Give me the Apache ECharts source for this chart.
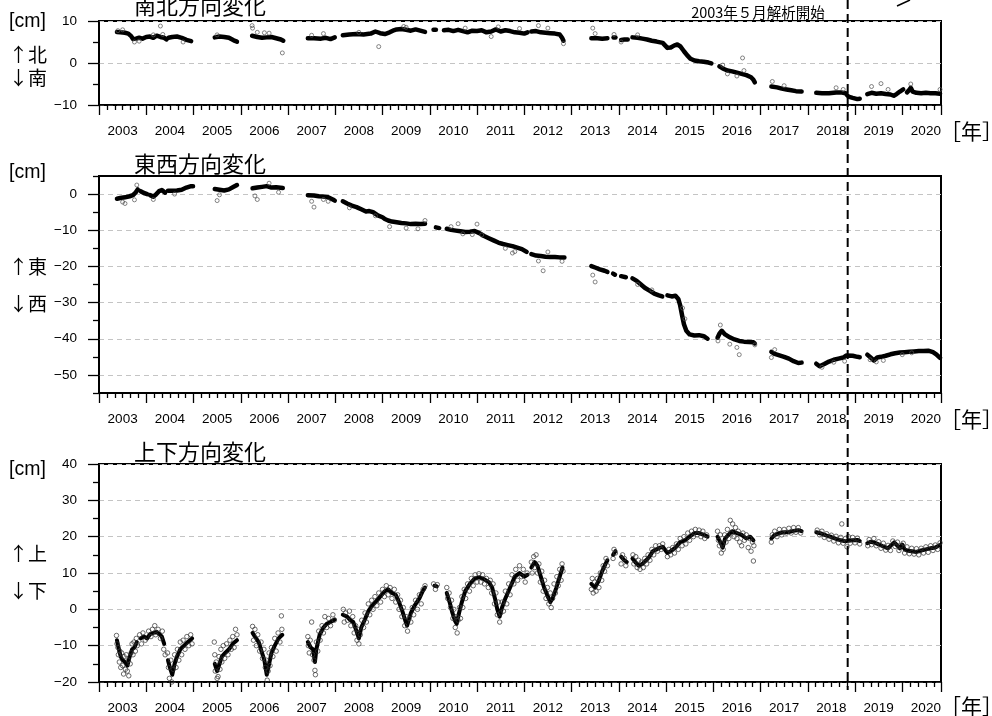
<!DOCTYPE html>
<html><head><meta charset="utf-8">
<script src="https://cdn.jsdelivr.net/npm/echarts@6/dist/echarts.min.js"></script>
<style>html,body{margin:0;padding:0;background:#fff;overflow:hidden}#c{width:992px;height:716px}</style>
</head><body><div id="c"></div><script>
// ---------- data ----------
const yearLabels = ['2003','2004','2005','2006','2007','2008','2009','2010','2011','2012','2013','2014','2015','2016','2017','2018','2019','2020'];
const xMin = 2003, xMax = 2020.82;
const markerYear = 2018.845;
const panelTitles = ['南北方向変化','東西方向変化','上下方向変化'];
const unitLabel = '[cm]';
const dirLabels = [['↑北','↓南'],['↑東','↓西'],['↑上','↓下']];
const yearUnit = '［年］';
const noteText = '2003年５月解析開始';

// y-axis ranges and labelled ticks per panel
const yRanges = [[-10,10],[-55,5],[-20,40]];
const yTickLabels = [[-10,0,10],[-50,-40,-30,-20,-10,0],[-20,-10,0,10,20,30,40]];

// North-South trend segments [year, cm]
const nsSegs = [
 [[2003.38,7.4],[2003.45,7.3],[2003.55,7.2],[2003.62,7.0],[2003.68,6.4],[2003.72,5.7],[2003.78,5.8],[2003.85,6.0],[2003.92,5.8],[2004.0,6.2],[2004.08,6.3],[2004.15,6.0],[2004.22,6.5],[2004.3,6.2],[2004.38,6.0],[2004.43,5.6]],
 [[2004.47,6.0],[2004.55,6.2],[2004.65,6.3],[2004.75,6.0],[2004.85,5.5],[2004.95,5.2]],
 [[2005.45,6.1],[2005.55,6.3],[2005.65,6.2],[2005.75,6.0],[2005.85,5.4],[2005.92,5.1]],
 [[2006.24,6.5],[2006.35,6.2],[2006.45,6.0],[2006.55,6.1],[2006.65,6.2],[2006.75,5.9],[2006.85,5.6],[2006.9,5.3]],
 [[2007.42,5.9],[2007.55,5.9],[2007.7,5.8],[2007.8,6.0],[2007.9,5.7],[2007.99,6.1]],
 [[2008.16,6.6],[2008.3,6.8],[2008.45,6.9],[2008.6,6.8],[2008.75,7.0],[2008.85,7.5],[2008.95,7.1],[2009.05,6.9],[2009.15,7.3],[2009.22,7.7],[2009.3,8.0],[2009.4,8.1],[2009.5,7.9],[2009.6,7.7],[2009.7,8.0],[2009.8,7.7],[2009.9,7.4]],
 [[2010.08,7.9],[2010.13,7.9]],
 [[2010.3,7.8],[2010.4,7.9],[2010.5,7.6],[2010.6,7.9],[2010.7,7.6],[2010.8,7.3],[2010.9,7.7],[2011.0,7.6],[2011.1,7.8],[2011.2,7.3],[2011.3,7.5],[2011.4,8.0],[2011.5,7.5],[2011.6,7.8],[2011.7,7.6],[2011.8,7.3],[2011.9,7.2],[2012.0,7.0],[2012.07,7.3]],
 [[2012.15,7.5],[2012.25,7.6],[2012.35,7.3],[2012.45,7.2],[2012.55,7.1],[2012.65,7.0],[2012.75,6.8],[2012.8,6.0],[2012.83,5.3]],
 [[2013.42,5.9],[2013.55,5.9],[2013.65,5.8],[2013.76,5.9]],
 [[2013.89,6.1],[2013.93,6.1]],
 [[2014.05,5.5],[2014.12,5.6],[2014.19,5.6]],
 [[2014.29,6.1],[2014.4,6.0],[2014.5,5.8],[2014.6,5.6],[2014.7,5.3],[2014.8,5.1],[2014.93,4.8],[2015.03,3.6],[2015.1,3.7],[2015.18,4.2],[2015.24,4.4],[2015.3,4.0],[2015.38,2.8],[2015.45,1.8],[2015.52,1.0],[2015.6,0.6],[2015.7,0.4],[2015.8,0.3],[2015.9,0.1],[2015.96,-0.1]],
 [[2016.13,-0.8],[2016.2,-1.3],[2016.3,-1.8],[2016.4,-2.0],[2016.5,-2.3],[2016.6,-2.6],[2016.7,-2.9],[2016.8,-3.4],[2016.85,-4.0],[2016.88,-4.6]],
 [[2017.23,-5.6],[2017.35,-5.8],[2017.45,-6.1],[2017.55,-6.3],[2017.65,-6.5],[2017.75,-6.7],[2017.87,-6.8]],
 [[2018.18,-7.1],[2018.3,-7.2],[2018.45,-7.2],[2018.6,-7.0],[2018.7,-7.0],[2018.8,-7.2],[2018.86,-8.0],[2018.95,-8.3],[2019.05,-8.6],[2019.1,-8.5]],
 [[2019.26,-7.4],[2019.35,-7.1],[2019.45,-7.3],[2019.55,-7.2],[2019.65,-7.4],[2019.75,-7.5],[2019.82,-7.8],[2019.88,-7.4],[2019.95,-6.8],[2020.02,-6.3]],
 [[2020.1,-7.0],[2020.15,-6.4],[2020.18,-5.9],[2020.22,-6.8],[2020.3,-7.1],[2020.4,-7.2],[2020.5,-7.1],[2020.6,-7.2],[2020.7,-7.2],[2020.8,-7.3]]
];
const nsOut = [[2003.4,7.7],[2003.5,7.9],[2003.75,5.0],[2003.85,5.2],[2004.15,6.7],[2004.3,8.8],[2004.35,6.8],[2004.78,5.0],[2005.5,6.7],[2006.24,8.9],[2006.25,8.3],[2006.35,7.3],[2006.5,7.2],[2006.6,7.1],[2006.88,2.4],[2007.5,6.6],[2007.75,7.0],[2008.5,7.3],[2008.92,3.9],[2009.45,8.7],[2009.5,8.5],[2010.75,8.3],[2011.3,6.3],[2011.45,8.6],[2011.9,8.2],[2012.3,8.9],[2012.5,8.3],[2012.83,4.6],[2013.45,8.3],[2013.5,7.0],[2013.9,6.8],[2014.05,5.0],[2014.4,6.7],[2016.2,-0.5],[2016.3,-2.6],[2016.5,-3.1],[2016.62,1.2],[2016.65,-1.8],[2017.25,-4.4],[2017.5,-5.4],[2018.6,-5.9],[2018.75,-6.3],[2019.35,-5.6],[2019.55,-4.9],[2019.7,-6.3],[2020.18,-5.0],[2020.8,-6.3]];

// East-West trend segments
const ewSegs = [
 [[2003.38,-1.3],[2003.45,-1.1],[2003.55,-0.9],[2003.65,-0.6],[2003.72,-0.3],[2003.78,0.5],[2003.82,1.3]],
 [[2003.88,0.8],[2003.95,0.3],[2004.02,0.0]],
 [[2004.08,-0.3],[2004.15,-0.7],[2004.2,-0.2],[2004.27,0.8],[2004.33,1.1],[2004.4,0.4]],
 [[2004.46,0.9],[2004.55,0.9],[2004.65,1.0],[2004.75,1.2],[2004.85,1.8],[2004.95,2.2],[2004.99,2.2]],
 [[2005.45,1.4],[2005.55,1.2],[2005.65,1.0],[2005.75,1.3],[2005.85,2.0],[2005.92,2.5]],
 [[2006.25,1.6],[2006.35,1.8],[2006.45,2.0],[2006.55,2.2],[2006.65,1.8],[2006.75,1.9],[2006.89,1.7]],
 [[2007.42,-0.3],[2007.55,-0.4],[2007.65,-0.6],[2007.75,-0.7],[2007.85,-0.9],[2007.95,-1.5],[2007.99,-1.8]],
 [[2008.16,-2.0],[2008.25,-2.6],[2008.35,-3.2],[2008.45,-3.6],[2008.55,-4.2],[2008.65,-4.8],[2008.72,-4.7],[2008.8,-5.0],[2008.9,-5.9],[2009.0,-6.4],[2009.05,-6.9],[2009.12,-7.3],[2009.2,-7.6],[2009.3,-7.8],[2009.4,-8.0],[2009.5,-8.1],[2009.6,-8.3],[2009.7,-8.2],[2009.8,-8.3],[2009.9,-8.2]],
 [[2010.13,-9.2],[2010.2,-9.4]],
 [[2010.36,-9.6],[2010.45,-9.9],[2010.55,-10.1],[2010.65,-10.3],[2010.75,-10.5],[2010.85,-10.4],[2010.95,-10.2],[2011.05,-10.8],[2011.15,-11.6],[2011.25,-12.2],[2011.35,-12.8],[2011.45,-13.4],[2011.55,-13.8],[2011.65,-14.1],[2011.75,-14.4],[2011.85,-14.8],[2011.95,-15.2],[2012.05,-16.0]],
 [[2012.15,-16.6],[2012.25,-17.0],[2012.35,-17.1],[2012.45,-17.3],[2012.55,-17.4],[2012.65,-17.4],[2012.75,-17.5],[2012.85,-17.5]],
 [[2013.42,-19.9],[2013.5,-20.3],[2013.6,-20.8],[2013.7,-21.2],[2013.76,-21.5]],
 [[2013.88,-22.0],[2013.92,-22.3]],
 [[2014.05,-22.7],[2014.15,-23.0]],
 [[2014.29,-23.3],[2014.38,-24.0],[2014.47,-25.0],[2014.55,-25.9],[2014.65,-26.7],[2014.75,-27.5],[2014.85,-28.0],[2014.92,-28.3]],
 [[2015.03,-28.0],[2015.12,-28.3],[2015.2,-28.1],[2015.26,-29.0],[2015.3,-30.8],[2015.34,-33.5],[2015.38,-36.0],[2015.43,-37.8],[2015.5,-38.8],[2015.6,-39.1],[2015.7,-39.0],[2015.8,-39.3],[2015.88,-40.0]],
 [[2016.09,-39.7],[2016.13,-38.6],[2016.18,-37.8],[2016.25,-38.8],[2016.35,-39.6],[2016.45,-40.2],[2016.55,-40.6],[2016.65,-40.8],[2016.75,-40.9],[2016.85,-41.0],[2016.88,-41.3]],
 [[2017.23,-43.6],[2017.3,-44.2],[2017.4,-44.6],[2017.5,-45.0],[2017.6,-45.5],[2017.7,-46.2],[2017.8,-46.7],[2017.87,-46.6]],
 [[2018.18,-46.9],[2018.25,-47.6],[2018.35,-47.0],[2018.45,-46.3],[2018.55,-45.8],[2018.65,-45.5],[2018.75,-45.2],[2018.82,-44.6],[2018.86,-44.1],[2018.95,-44.7],[2019.05,-45.0],[2019.1,-45.1]],
 [[2019.26,-44.4],[2019.33,-45.2],[2019.4,-46.0],[2019.47,-45.2],[2019.55,-45.0],[2019.65,-44.7],[2019.75,-44.3],[2019.85,-44.0],[2019.95,-43.8],[2020.05,-43.7],[2020.15,-43.6],[2020.25,-43.5],[2020.35,-43.4],[2020.45,-43.4],[2020.55,-43.3],[2020.65,-43.7],[2020.72,-44.3],[2020.8,-45.3]]
];
const ewOut = [[2003.5,-2.2],[2003.55,-2.6],[2003.75,-1.6],[2003.8,2.5],[2004.15,-1.5],[2004.6,0.0],[2005.5,-1.8],[2005.55,-0.2],[2006.3,-0.5],[2006.35,-1.5],[2006.6,3.0],[2006.8,0.5],[2007.5,-2.0],[2007.55,-3.6],[2007.75,-1.5],[2007.85,-2.0],[2008.3,-3.8],[2008.85,-6.0],[2009.15,-9.0],[2009.5,-9.4],[2009.75,-9.6],[2009.9,-7.3],[2010.45,-9.0],[2010.6,-8.2],[2010.7,-11.0],[2010.9,-11.2],[2011.0,-8.3],[2011.1,-11.3],[2011.6,-15.0],[2011.75,-16.3],[2011.8,-15.9],[2012.3,-18.5],[2012.4,-21.2],[2012.5,-16.0],[2012.8,-18.6],[2013.45,-22.4],[2013.5,-24.3],[2014.4,-25.0],[2014.7,-26.5],[2015.35,-31.5],[2015.4,-34.5],[2016.1,-40.6],[2016.15,-36.2],[2016.35,-41.5],[2016.5,-42.4],[2016.55,-44.4],[2016.88,-41.7],[2017.23,-45.2],[2017.3,-43.0],[2018.3,-47.9],[2018.55,-46.5],[2018.78,-46.2],[2019.32,-45.8],[2019.45,-46.4],[2019.6,-46.0],[2020.0,-44.4],[2020.2,-43.9]];

// Up-Down trend segments
const udSegs = [
 [[2003.38,-8.5],[2003.42,-11],[2003.46,-13],[2003.5,-14],[2003.55,-14.5],[2003.6,-15.5],[2003.65,-13],[2003.7,-11],[2003.75,-10.5],[2003.8,-9]],
 [[2003.88,-8],[2003.95,-7.5],[2004.02,-8],[2004.08,-6.8],[2004.15,-6.5],[2004.22,-6.2],[2004.28,-6.8],[2004.33,-7.5],[2004.38,-9.5]],
 [[2004.46,-14],[2004.5,-16],[2004.55,-18],[2004.6,-15],[2004.65,-13],[2004.72,-11],[2004.8,-10],[2004.88,-9],[2004.97,-8]],
 [[2005.45,-15],[2005.5,-17],[2005.55,-15],[2005.6,-13],[2005.67,-12],[2005.75,-11],[2005.83,-9.5],[2005.92,-8.5]],
 [[2006.25,-6.5],[2006.3,-7.5],[2006.38,-9],[2006.45,-12],[2006.5,-14],[2006.55,-18],[2006.6,-15],[2006.65,-12],[2006.72,-10],[2006.8,-8],[2006.88,-7]],
 [[2007.42,-9],[2007.48,-10.5],[2007.53,-11],[2007.57,-14.5],[2007.6,-11],[2007.67,-7],[2007.75,-5],[2007.82,-4],[2007.9,-3.5],[2007.99,-2.8]],
 [[2008.16,-1.5],[2008.25,-2],[2008.32,-3],[2008.38,-3.5],[2008.45,-6],[2008.5,-8],[2008.55,-5],[2008.62,-3],[2008.7,-0.5],[2008.78,1],[2008.85,2],[2008.95,3.5],[2009.05,5],[2009.12,5.5],[2009.2,4.5],[2009.28,4],[2009.35,2],[2009.42,-0.5],[2009.48,-3],[2009.52,-4.5],[2009.6,-1],[2009.68,1],[2009.78,3],[2009.85,5],[2009.9,6]],
 [[2010.1,6.5],[2010.15,6.3]],
 [[2010.36,4.5],[2010.42,2],[2010.48,-1],[2010.53,-3],[2010.57,-4],[2010.62,-1],[2010.68,2],[2010.75,5],[2010.85,7],[2010.95,8.5],[2011.05,8.8],[2011.15,8.3],[2011.25,7.5],[2011.32,6],[2011.38,3],[2011.43,0],[2011.48,-2],[2011.53,0.5],[2011.6,3],[2011.7,6],[2011.8,9],[2011.9,10],[2012.0,9],[2012.07,9.5]],
 [[2012.15,11.5],[2012.22,13],[2012.28,12],[2012.35,9],[2012.42,6],[2012.5,3.5],[2012.55,2],[2012.6,3],[2012.68,6],[2012.75,9],[2012.81,11.5]],
 [[2013.42,7],[2013.5,6],[2013.58,8],[2013.65,10.5],[2013.72,12.5],[2013.76,13.5]],
 [[2013.88,15],[2013.93,16]],
 [[2014.05,14.5],[2014.12,13.5],[2014.17,13]],
 [[2014.29,14],[2014.35,13],[2014.42,12],[2014.5,12.5],[2014.58,13.5],[2014.65,14.5],[2014.72,16],[2014.8,16.5],[2014.88,17],[2014.93,17.2],[2015.03,15.5],[2015.1,16],[2015.2,17],[2015.3,18.5],[2015.4,19],[2015.5,20],[2015.6,21],[2015.7,21],[2015.8,20.5],[2015.88,20]],
 [[2016.09,20],[2016.15,18.5],[2016.2,17],[2016.25,19.5],[2016.32,20.5],[2016.4,21.5],[2016.5,21],[2016.6,20.5],[2016.7,19.5],[2016.78,20],[2016.85,19]],
 [[2017.23,19.5],[2017.3,20.5],[2017.4,21],[2017.5,21.2],[2017.6,21.3],[2017.7,21.6],[2017.8,21.8],[2017.87,21.5]],
 [[2018.18,21.2],[2018.3,20.8],[2018.4,20.3],[2018.5,19.9],[2018.6,19.4],[2018.7,19.0],[2018.8,18.7],[2018.86,18.9],[2018.95,19.0],[2019.05,19.1],[2019.1,18.8]],
 [[2019.26,18.2],[2019.33,18.6],[2019.4,18.4],[2019.5,17.9],[2019.6,17.3],[2019.7,16.8],[2019.78,17.8],[2019.83,18.4],[2019.9,17.5],[2019.95,16.8],[2020.0,17.8],[2020.05,16.5],[2020.1,16.2],[2020.2,16.0],[2020.3,15.8],[2020.4,16.2],[2020.5,16.5],[2020.6,16.8],[2020.7,17.0],[2020.8,17.7]]
];
const udPts = [
 [2003.37,-7.2],[2003.38,-9.5],[2003.4,-10.5],[2003.41,-12.5],[2003.43,-14.5],[2003.44,-11.5],[2003.46,-16],[2003.48,-12],[2003.5,-15.5],[2003.52,-17.8],[2003.53,-13],[2003.56,-16.5],[2003.58,-12.5],[2003.6,-17],[2003.62,-14],[2003.63,-18.3],[2003.66,-15],[2003.68,-12],[2003.7,-9.5],[2003.72,-12.5],[2003.74,-9],[2003.77,-11.5],[2003.79,-8],[2003.81,-10],[2003.86,-7],[2003.9,-9.5],[2003.93,-6.5],[2003.98,-8.5],[2004.05,-6],[2004.1,-7.5],[2004.13,-5.5],[2004.18,-4.5],[2004.2,-7],[2004.25,-5.5],[2004.3,-8],[2004.34,-6],[2004.37,-11],[2004.4,-12.5],[2004.45,-12],[2004.47,-16],[2004.49,-19],[2004.52,-14],[2004.54,-20],[2004.57,-16.5],[2004.6,-12.5],[2004.63,-16],[2004.66,-11],[2004.69,-14],[2004.72,-9],[2004.75,-12.5],[2004.78,-8.5],[2004.82,-11],[2004.86,-7.5],[2004.9,-10],[2004.94,-7],[2004.97,-9.5],
 [2005.44,-9],[2005.45,-12.5],[2005.46,-17],[2005.48,-14.5],[2005.5,-19],[2005.52,-18.5],[2005.54,-13],[2005.56,-16.5],[2005.58,-11],[2005.6,-14.5],[2005.63,-10],[2005.66,-13.5],[2005.7,-9.5],[2005.73,-12.5],[2005.77,-8.5],[2005.8,-11],[2005.83,-7.5],[2005.86,-10.5],[2005.89,-5.5],[2005.92,-7],
 [2006.25,-4.7],[2006.27,-8.5],[2006.3,-5.5],[2006.33,-10],[2006.36,-7],[2006.4,-11.5],[2006.43,-9],[2006.46,-13.5],[2006.49,-11],[2006.52,-16],[2006.54,-14],[2006.56,-19.5],[2006.58,-17],[2006.6,-12],[2006.62,-15.5],[2006.65,-10.5],[2006.68,-13],[2006.72,-8],[2006.75,-11.5],[2006.79,-6.5],[2006.83,-9],[2006.87,-5.5],[2006.86,-1.8],
 [2007.42,-7.5],[2007.43,-10],[2007.45,-12],[2007.47,-8.5],[2007.5,-3.5],[2007.52,-12.5],[2007.55,-14],[2007.57,-16.8],[2007.58,-18],[2007.6,-9],[2007.63,-11.5],[2007.65,-6],[2007.68,-8.5],[2007.72,-4.5],[2007.75,-6.5],[2007.78,-2],[2007.82,-5],[2007.86,-2.5],[2007.9,-4.5],[2007.95,-1.5],[2007.98,-3],
 [2008.17,0],[2008.19,-3.5],[2008.22,-1],[2008.26,-3],[2008.3,-0.5],[2008.33,-4.5],[2008.37,-2],[2008.4,-6.5],[2008.43,-4.5],[2008.46,-8.5],[2008.48,-5.5],[2008.5,-9.5],[2008.53,-7],[2008.56,-3],[2008.6,-5],[2008.63,-1],[2008.66,-3.5],[2008.7,1.5],[2008.73,-1.5],[2008.77,2.5],[2008.8,0],[2008.84,3.5],[2008.88,1],[2008.92,4.5],[2008.96,2],[2009.0,5.5],[2009.04,3.5],[2009.08,6.5],[2009.12,4],[2009.16,6],[2009.2,3],[2009.25,5.5],[2009.28,2],[2009.32,4],[2009.35,0],[2009.38,2.5],[2009.41,-2],[2009.44,0.5],[2009.47,-4.5],[2009.5,-2],[2009.53,-6],[2009.56,-2.5],[2009.6,-3.5],[2009.63,0.5],[2009.66,-1.5],[2009.7,2.5],[2009.74,0],[2009.78,4],[2009.82,1.5],[2009.86,5.5],[2009.9,6.5],
 [2010.08,7],[2010.12,5.5],[2010.16,6.8],[2010.36,6],[2010.38,3],[2010.41,4.5],[2010.44,0.5],[2010.46,2.5],[2010.49,-2.5],[2010.51,0],[2010.54,-5],[2010.56,-2],[2010.58,-6.5],[2010.6,-3],[2010.63,0.5],[2010.65,-2.5],[2010.68,3.5],[2010.7,0.5],[2010.73,5.5],[2010.76,3],[2010.8,7],[2010.84,5],[2010.88,8.5],[2010.92,6.5],[2010.96,9.5],[2011.0,7.5],[2011.04,9.8],[2011.08,7.5],[2011.12,9.5],[2011.16,7],[2011.2,8.5],[2011.24,6],[2011.28,8],[2011.31,4.5],[2011.34,7],[2011.37,1.5],[2011.4,4.5],[2011.43,-1.5],[2011.45,2],[2011.48,-3.5],[2011.5,-1],[2011.53,2],[2011.56,-0.5],[2011.6,5],[2011.63,1.5],[2011.67,7],[2011.7,4],[2011.74,9.5],[2011.78,7],[2011.82,11],[2011.86,8],[2011.9,12],[2011.94,9],[2011.98,11],[2012.02,7.5],[2012.06,10],
 [2012.15,13],[2012.17,10],[2012.2,14.5],[2012.22,11.5],[2012.25,15],[2012.28,10],[2012.31,12.5],[2012.34,7.5],[2012.37,10.5],[2012.4,5],[2012.43,8],[2012.46,3],[2012.49,6],[2012.52,1.5],[2012.55,4.5],[2012.57,0.5],[2012.6,3],[2012.63,7],[2012.66,4.5],[2012.69,9],[2012.72,6.5],[2012.75,11],[2012.78,8],[2012.8,12.5],[2012.82,10.5],
 [2013.42,5.5],[2013.44,8.5],[2013.46,4.5],[2013.49,7.5],[2013.52,5],[2013.55,8.5],[2013.58,6],[2013.61,10],[2013.64,8],[2013.67,12],[2013.7,10.5],[2013.73,14],[2013.76,12],[2013.88,14],[2013.9,16.5],[2013.93,15.5],[2014.05,12.5],[2014.08,15],[2014.12,14],[2014.15,12],
 [2014.3,15],[2014.32,12.5],[2014.36,14.5],[2014.39,11.5],[2014.42,13.5],[2014.45,11],[2014.48,13],[2014.52,11.5],[2014.55,14],[2014.59,12.5],[2014.62,15],[2014.66,13.5],[2014.7,16.5],[2014.74,15],[2014.78,17.5],[2014.82,16],[2014.86,17.5],[2014.9,16.5],[2014.93,18],
 [2015.03,14.5],[2015.06,16.5],[2015.1,15],[2015.14,17],[2015.18,15.5],[2015.22,18],[2015.26,16.5],[2015.3,19.5],[2015.34,17.5],[2015.38,20],[2015.42,18],[2015.46,21],[2015.5,19],[2015.54,21.5],[2015.58,20],[2015.62,22],[2015.66,20.5],[2015.7,21.8],[2015.74,20],[2015.78,21.5],[2015.82,19.5],[2015.86,20.5],
 [2016.09,21.5],[2016.11,19],[2016.13,17.5],[2016.15,20.5],[2016.17,15.5],[2016.19,18],[2016.21,16.5],[2016.24,20.5],[2016.27,18.5],[2016.3,22],[2016.33,19.5],[2016.36,24.5],[2016.38,21],[2016.41,23.5],[2016.44,20],[2016.47,22.5],[2016.5,19.5],[2016.53,21.5],[2016.56,18.5],[2016.6,17.5],[2016.63,21],[2016.66,19],[2016.7,20.5],[2016.74,17],[2016.77,19.5],[2016.8,16],[2016.83,18.5],[2016.86,17.5],[2016.85,13.3],
 [2017.23,18.5],[2017.25,20.5],[2017.3,21.5],[2017.35,20],[2017.4,22],[2017.45,20.5],[2017.5,22],[2017.55,21],[2017.6,22.3],[2017.65,21],[2017.7,22.5],[2017.75,21.2],[2017.8,22.5],[2017.85,21],
 [2018.2,21.8],[2018.25,20.5],[2018.3,21.5],[2018.35,19.8],[2018.4,20.8],[2018.45,19.3],[2018.5,20.4],[2018.55,18.8],[2018.6,20.1],[2018.65,18.3],[2018.7,19.8],[2018.72,23.5],[2018.75,18.2],[2018.8,19.5],[2018.83,17.2],[2018.86,20],[2018.9,18.2],[2018.95,19.8],[2019.0,18.3],[2019.05,19.6],[2019.1,18.0],
 [2019.27,17.5],[2019.3,19.2],[2019.35,17.8],[2019.4,19.5],[2019.45,17.5],[2019.5,18.6],[2019.55,16.8],[2019.6,18.2],[2019.65,16.3],[2019.7,17.6],[2019.75,16.2],[2019.8,18.8],[2019.85,17.3],[2019.9,18.5],[2019.93,16.2],[2019.97,17.5],[2020.02,18.2],[2020.05,15.5],[2020.1,17.2],[2020.15,15.3],[2020.2,16.8],[2020.25,15.2],[2020.3,16.7],[2020.35,15.0],[2020.4,16.8],[2020.45,15.5],[2020.5,17.2],[2020.55,15.7],[2020.6,17.5],[2020.65,16.2],[2020.7,17.7],[2020.75,16.5],[2020.8,18.3]
];

// ---------- chart ----------
const chart = echarts.init(document.getElementById('c'), null, {renderer:'canvas'});
const grids = [
 {left:99, top:21, width:842, height:84},
 {left:99, top:176, width:842, height:217},
 {left:99, top:464, width:842, height:218}
];
const numFont = 'Liberation Sans, Arial, sans-serif';
const cjkFont = 'Noto Sans CJK JP, sans-serif';
const fmtNum = v => (v < 0 ? '\u2212' + Math.abs(v) : String(v));
const blk = w => ({color:'#000', width:w});
const gridDash = {color:'#c4c4c4', type:[5,4], width:1};

const xAxes = grids.map((g,i) => ({
 type:'value', gridIndex:i, min:xMin, max:xMax, interval:1,
 axisLine:{show:true, onZero:false, lineStyle:blk(1.5)},
 axisTick:{show:true, length:10, lineStyle:blk(1.3)},
 minorTick:{show:true, splitNumber:6, length:5, lineStyle:blk(1.3)},
 splitLine:{show:false},
 axisLabel:{show:true, customValues: yearLabels.map(y => +y + 0.5), formatter: v => String(Math.floor(v)),
   margin:19.5, fontSize:13.5, fontFamily:numFont, color:'#000'}
}));
const yAxes = grids.map((g,i) => {
 const [mn, mx] = yRanges[i];
 // ticks are counted from min: when min is a multiple of 10 the major ticks are the labelled ones,
 // otherwise (min offset by 5) the minor ticks fall on the labelled values.
 const aligned = (mn % 10) === 0;
 return {
  type:'value', gridIndex:i, min:mn, max:mx, interval:10,
  axisLine:{show:true, onZero:false, lineStyle:blk(1.5)},
  axisTick:{show:true, length: aligned ? 11 : 6, lineStyle:blk(1.3)},
  minorTick:{show:true, splitNumber:2, length: aligned ? 6 : 11, lineStyle:blk(1.3)},
  splitLine:{show:aligned, lineStyle:gridDash},
  minorSplitLine:{show:!aligned, lineStyle:gridDash},
  axisLabel:{show:true, customValues: yTickLabels[i], margin:22, fontSize:13.5, fontFamily:numFont, color:'#000', formatter: fmtNum}
 };
});

const series = [];
[nsSegs, ewSegs, udSegs].forEach((segs, gi) => {
 segs.forEach(s => series.push({
   type:'line', xAxisIndex:gi, yAxisIndex:gi, data:s, symbol:'none', showSymbol:false,
   lineStyle:{color:'#000', width: gi === 2 ? 4 : 4.5, cap:'round', join:'round'},
   silent:true, animation:false, z:3
 }));
});
[[nsOut,0],[ewOut,1],[udPts,2]].forEach(([d,gi]) => series.push({
 type:'scatter', xAxisIndex:gi, yAxisIndex:gi, data:d, symbol:'circle', symbolSize: gi===2 ? 4.5 : 4,
 itemStyle:{color:'rgba(255,255,255,0)', borderColor: gi===2 ? '#333' : '#555', borderWidth: 0.9},
 silent:true, animation:false, z:4
}));

chart.setOption({
 animation:false,
 backgroundColor:'#fff',
 grid: grids.map(g => Object.assign({show:true, borderColor:'#000', borderWidth:2, backgroundColor:'rgba(0,0,0,0)', containLabel:false}, g)),
 xAxis: xAxes, yAxis: yAxes, series
});

// annotations
const mx = chart.convertToPixel({xAxisIndex:0}, markerYear);
const txt = (text, x, y, size, font, align) => ({type:'text', x, y, silent:true,
 style:{text, fontSize:size, fontFamily:font, fill:'#000', align: align || 'left', verticalAlign:'middle'}});
const graphic = [
 {type:'line', silent:true, z:100, shape:{x1:mx, y1:0, x2:mx, y2:690}, style:{stroke:'#000', lineWidth:2, lineDash:[9,5]}},
 {type:'line', silent:true, shape:{x1:897, y1:6, x2:910, y2:0}, style:{stroke:'#000', lineWidth:1.5}},
 txt(noteText, 758, 12, 14.5, cjkFont, 'center'),
 txt(panelTitles[0], 200, 6, 22, cjkFont, 'center'),
 txt(panelTitles[1], 200, 164, 22, cjkFont, 'center'),
 txt(panelTitles[2], 200, 452, 22, cjkFont, 'center'),
 txt(unitLabel, 9, 22, 19.5, numFont),
 txt(unitLabel, 9, 173, 19.5, numFont),
 txt(unitLabel, 9, 470, 19.5, numFont),
 txt(dirLabels[0][0], 9, 55, 19, cjkFont), txt(dirLabels[0][1], 9, 78, 19, cjkFont),
 txt(dirLabels[1][0], 9, 267, 19, cjkFont), txt(dirLabels[1][1], 9, 304, 19, cjkFont),
 txt(dirLabels[2][0], 9, 554, 19, cjkFont), txt(dirLabels[2][1], 9, 591, 19, cjkFont),
 txt(yearUnit, 940, 131, 21, cjkFont),
 txt(yearUnit, 940, 419, 21, cjkFont),
 txt(yearUnit, 940, 706, 21, cjkFont)
];
chart.setOption({graphic});
</script></body></html>
